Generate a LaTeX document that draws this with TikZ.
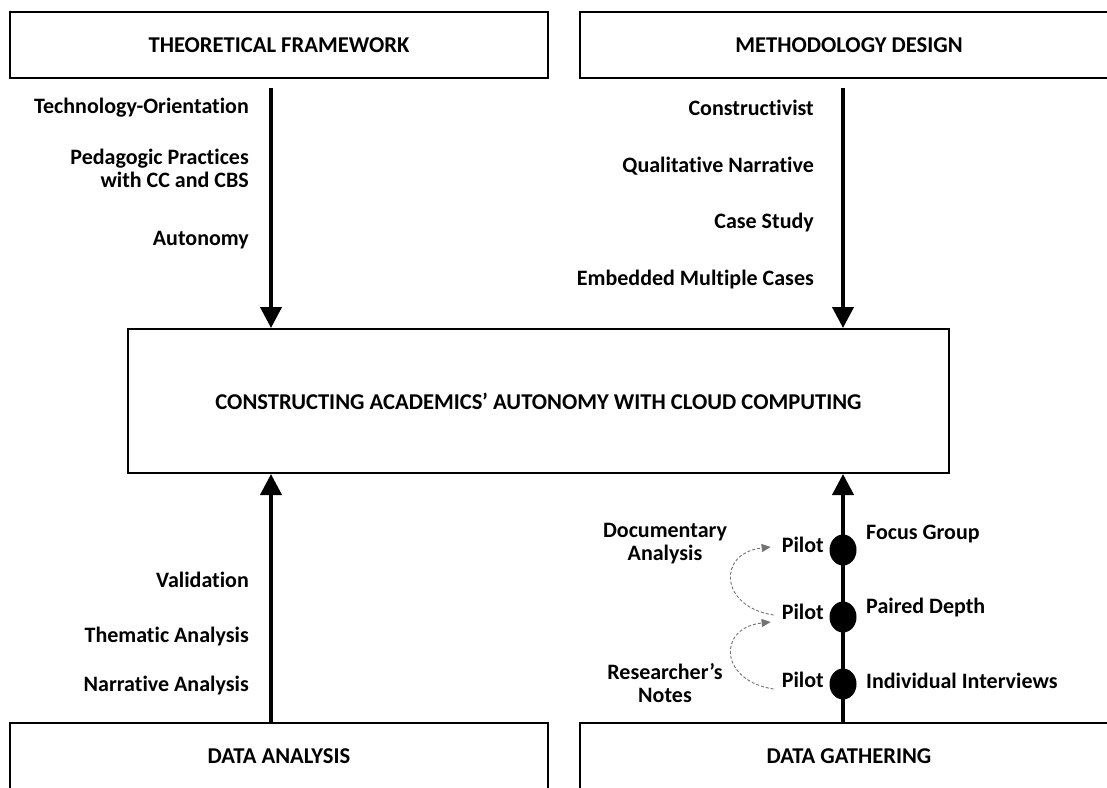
\documentclass[tikz,border=0pt]{standalone}
\usepackage{fontspec}
\setmainfont{Carlito}[Ligatures=NoCommon]
\usetikzlibrary{
  arrows.meta,
  shapes.geometric,
  positioning
}
\tikzset{
  stagebox/.style={
    draw, line width=2pt, minimum width=538pt, minimum height=66pt,
    font=\fontsize{22.6}{26}\selectfont\bfseries
  },
  centrebox/.style={stagebox, minimum width=821pt, minimum height=144pt},
  lbl/.style={font=\fontsize{22}{23}\selectfont\bfseries, align=right, inner sep=0pt},
  flow/.style={-{Triangle[length=21pt,width=21pt]}, line width=4pt},
  pilotdot/.style={ellipse, fill=black, minimum width=27pt, minimum height=31pt, inner sep=0pt},
  pilotlink/.style={-{Triangle[length=9pt,width=8pt]}, densely dashed, black!55, line width=0.9pt}
}

\begin{document}
\begin{tikzpicture}[x=1pt, y=-1pt]
  \useasboundingbox (0,0) rectangle (1107,787);
  \fill[white] (0,0) rectangle (1107,787);
  \clip (0,0) rectangle (1107,787);
  % the four stages round the centre
  \node[stagebox] (tf) at (279,45) {THEORETICAL FRAMEWORK};
  \node[stagebox, right=30pt of tf] (md) {METHODOLOGY DESIGN};
  \node[centrebox] (cac) at (538.5,401) {CONSTRUCTING ACADEMICS’ AUTONOMY WITH CLOUD COMPUTING};
  \node[stagebox] (da) at (279,756) {DATA ANALYSIS};
  \node[stagebox, right=30pt of da] (dg) {DATA GATHERING};
  \coordinate (lx) at (271,0);
  \coordinate (rx) at (843,0);
  \draw[flow, shorten <=9pt] (tf.south -| lx) -- (cac.north -| lx);
  \draw[flow, shorten <=9pt] (md.south -| rx) -- (cac.north -| rx);
  \draw[flow] (da.north -| lx) -- (cac.south -| lx);
  \draw[flow] (dg.north -| rx) -- (cac.south -| rx);
  % labels
  \node[lbl, anchor=east] (to) at (249,108) {Technology-Orientation};
  \node[lbl, anchor=east] (pp) at (249,168) {Pedagogic Practices\\with CC and CBS};
  \node[lbl, anchor=east] (au) at (249,240) {Autonomy};
  \node[lbl, anchor=east] (co) at (814,108) {Constructivist};
  \node[lbl, anchor=east] (qn) at (814,166) {Qualitative Narrative};
  \node[lbl, anchor=east] (cs) at (814,223) {Case Study};
  \node[lbl, anchor=east] (em) at (814,280) {Embedded Multiple Cases};
  \node[lbl, anchor=east] (va) at (249,580) {Validation};
  \node[lbl, anchor=east] (th) at (249,637) {Thematic Analysis};
  \node[lbl, anchor=east] (na) at (249,686) {Narrative Analysis};
  % pilots on the gathering line
  \node[pilotdot] (d1) at (843,684) {};
  \node[pilotdot] (d2) at (843,617) {};
  \node[pilotdot] (d3) at (843,550) {};
  \node[lbl, anchor=east] (p1) at (824,680) {Pilot};
  \node[lbl, anchor=east] (p2) at (824,612) {Pilot};
  \node[lbl, anchor=east] (p3) at (824,545) {Pilot};
  \node[lbl, anchor=west] (ii) at (866,681) {Individual Interviews};
  \node[lbl, anchor=west] (pd) at (866,608) {Paired Depth};
  \node[lbl, anchor=west] (fg) at (866,534) {Focus Group};
  \node[lbl, align=center] (rn) at (665,683) {Researcher’s\\Notes};
  \node[lbl, align=center] (doc) at (665,544) {Documentary\\Analysis};
  \draw[pilotlink] ([xshift=-8pt,yshift=-9pt]p1.west) .. controls +(-54,-8) and +(-54,6) .. ([xshift=-11pt,yshift=-10pt]p2.west);
  \draw[pilotlink] ([xshift=-8pt,yshift=-3pt]p2.west) .. controls +(-54,-8) and +(-54,6) .. ([xshift=-11pt,yshift=-2pt]p3.west);
\end{tikzpicture}
\end{document}
